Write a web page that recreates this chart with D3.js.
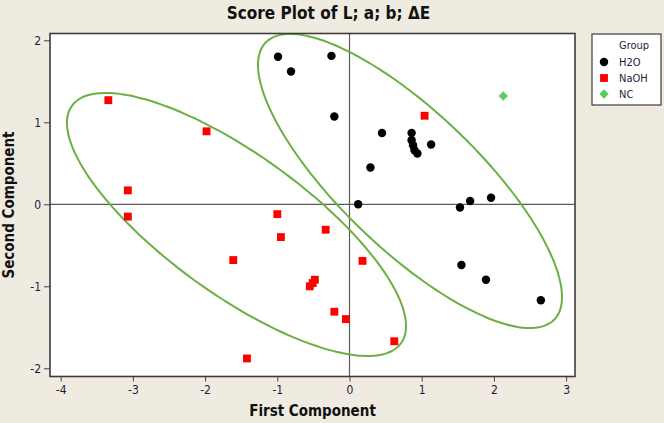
<!DOCTYPE html>
<html>
<head>
<meta charset="utf-8">
<script src="https://cdn.jsdelivr.net/npm/d3@7"></script>
<style>
  body { margin: 0; background: #efebe1; }
  .title { font-family: "DejaVu Sans Condensed", "DejaVu Sans"; font-weight: bold; font-size: 17px; fill: #111; }
  .axisLabel { font-family: "DejaVu Sans Condensed", "DejaVu Sans"; font-weight: bold; font-size: 15px; fill: #111; }
  .tick text { font-family: "DejaVu Sans Condensed", "DejaVu Sans"; font-size: 12px; fill: #1c1c3c; }
  .legendText { font-family: "DejaVu Sans Condensed", "DejaVu Sans"; font-size: 11px; fill: #1c1c3c; }
</style>
</head>
<body>
<div id="chart"></div>
<script>
// Data
var h2oX = [-0.99, -0.81, -0.25, -0.21, 0.45, 0.86, 0.86, 0.88, 0.90, 0.94, 1.13, 0.29, 0.12, 1.53, 1.67, 1.96, 1.55, 1.89, 2.65];
var h2oY = [1.80, 1.62, 1.81, 1.07, 0.87, 0.87, 0.78, 0.72, 0.66, 0.62, 0.73, 0.45, 0.00, -0.04, 0.04, 0.08, -0.74, -0.92, -1.17];
var naohX = [1.04, -3.34, -1.98, -3.07, -3.07, -1.00, -0.95, -1.61, -0.33, 0.18, -0.48, -0.51, -0.55, -0.21, -0.05, 0.62, -1.42];
var naohY = [1.08, 1.27, 0.89, 0.17, -0.15, -0.12, -0.40, -0.68, -0.31, -0.69, -0.92, -0.96, -1.00, -1.31, -1.40, -1.67, -1.88];
var ncX = [2.13];
var ncY = [1.32];
var groups = ["H2O", "NaOH", "NC"];
var xTicks = [-4, -3, -2, -1, 0, 1, 2, 3];
var yTicks = [-2, -1, 0, 1, 2];

// Group ellipses: centre x, centre y, spread x, spread y, correlation
var ellipseH2O = [0.838, 0.284, 2.105, 1.793, -0.789];
var ellipseNaOH = [-1.565, -0.246, 2.348, 1.604, -0.772];

// Spacing
var W = 664, H = 423;
var plot = {left: 50, right: 575, top: 33.5, bottom: 376.5};
var green = "#6cb043";

var svg = d3.select("#chart")
	.append("svg")
	.attr("width", W)
	.attr("height", H);

svg.append("rect")
	.attr("width", W)
	.attr("height", H)
	.style("fill", "#efebe1");

// Scales
var xScale = d3.scaleLinear()
	.domain([-4.148, 3.123])
	.range([plot.left, plot.right]);

var yScale = d3.scaleLinear()
	.domain([-2.10, 2.083])
	.range([plot.bottom, plot.top]);

// Plot area
svg.append("rect")
	.attr("x", plot.left)
	.attr("y", plot.top)
	.attr("width", plot.right - plot.left)
	.attr("height", plot.bottom - plot.top)
	.style("fill", "#fff");

// Reference lines at zero
svg.append("line")
	.attr("x1", xScale(0)).attr("x2", xScale(0))
	.attr("y1", plot.top).attr("y2", plot.bottom)
	.style("stroke", "#5a5a5a").style("stroke-width", 1.2);

svg.append("line")
	.attr("x1", plot.left).attr("x2", plot.right)
	.attr("y1", yScale(0)).attr("y2", yScale(0))
	.style("stroke", "#5a5a5a").style("stroke-width", 1.2);

// Axes (plain hyphen for negatives)
var fmt = function(d) { return String(d); };

var xAxis = svg.append("g")
	.attr("transform", "translate(0," + plot.bottom + ")")
	.call(d3.axisBottom(xScale).tickValues(xTicks).tickFormat(fmt).tickSize(5).tickPadding(4));

var yAxis = svg.append("g")
	.attr("transform", "translate(" + plot.left + ",0)")
	.call(d3.axisLeft(yScale).tickValues(yTicks).tickFormat(fmt).tickSize(6).tickPadding(3));

[xAxis, yAxis].forEach(function(ax) {
	ax.select(".domain").remove();
	ax.selectAll(".tick line").style("stroke", "#444");
});

// Ellipses, built in data space and mapped through the scales
function ellipsePath(e) {
	var pts = d3.range(0, 360, 3).map(function(deg) {
		var t = deg * Math.PI / 180;
		var x = e[0] + e[2] * Math.cos(t);
		var y = e[1] + e[3] * (e[4] * Math.cos(t) + Math.sqrt(1 - e[4] * e[4]) * Math.sin(t));
		return [xScale(x), yScale(y)];
	});
	return d3.line().curve(d3.curveCardinalClosed)(pts);
}

[ellipseH2O, ellipseNaOH].forEach(function(e) {
	svg.append("path")
		.attr("d", ellipsePath(e))
		.style("fill", "none")
		.style("stroke", green)
		.style("stroke-width", 2);
});

// Points
var symCircle = d3.symbol().type(d3.symbolCircle).size(56);
var symSquare = d3.symbol().type(d3.symbolSquare).size(62);
var symDiamond = d3.symbol().type(d3.symbolSquare).size(44);

svg.selectAll(".h2o")
	.data(h2oX)
	.enter()
	.append("path")
	.attr("class", "h2o")
	.attr("d", symCircle)
	.attr("transform", function(d, i) { return "translate(" + xScale(d) + "," + yScale(h2oY[i]) + ")"; })
	.style("fill", "#000");

svg.selectAll(".naoh")
	.data(naohX)
	.enter()
	.append("path")
	.attr("class", "naoh")
	.attr("d", symSquare)
	.attr("transform", function(d, i) { return "translate(" + xScale(d) + "," + yScale(naohY[i]) + ")"; })
	.style("fill", "#ff0000");

svg.selectAll(".nc")
	.data(ncX)
	.enter()
	.append("path")
	.attr("class", "nc")
	.attr("d", symDiamond)
	.attr("transform", function(d, i) { return "translate(" + xScale(d) + "," + yScale(ncY[i]) + ") rotate(45)"; })
	.style("fill", "#5ccc5c");

// Plot frame
svg.append("rect")
	.attr("x", plot.left)
	.attr("y", plot.top)
	.attr("width", plot.right - plot.left)
	.attr("height", plot.bottom - plot.top)
	.style("fill", "none")
	.style("stroke", "#3c3c3c")
	.style("stroke-width", 1.6);

// Title and axis labels
svg.append("text")
	.attr("x", (plot.left + plot.right) / 2 + 16)
	.attr("y", 19)
	.style("text-anchor", "middle")
	.attr("class", "title")
	.text("Score Plot of L; a; b; ΔE");

svg.append("text")
	.attr("x", (plot.left + plot.right) / 2)
	.attr("y", 416)
	.style("text-anchor", "middle")
	.attr("class", "axisLabel")
	.text("First Component");

svg.append("text")
	.attr("transform", "translate(14," + ((plot.top + plot.bottom) / 2) + ") rotate(-90)")
	.style("text-anchor", "middle")
	.attr("class", "axisLabel")
	.text("Second Component");

// Legend
var lx = 592, ly = 34;
svg.append("rect")
	.attr("x", lx).attr("y", ly)
	.attr("width", 69).attr("height", 71)
	.style("fill", "#fff")
	.style("stroke", "#3c3c3c")
	.style("stroke-width", 1.2);

svg.append("text")
	.attr("x", lx + 27).attr("y", ly + 15)
	.attr("class", "legendText")
	.text("Group");

var legendSyms = [symCircle, symSquare, symDiamond];
var legendFill = ["#000", "#ff0000", "#5ccc5c"];
groups.forEach(function(g, i) {
	var yy = ly + 28 + i * 16;
	svg.append("path")
		.attr("d", legendSyms[i])
		.attr("transform", "translate(" + (lx + 12) + "," + yy + ")" + (i == 2 ? " rotate(45)" : ""))
		.style("fill", legendFill[i]);
	svg.append("text")
		.attr("x", lx + 27).attr("y", yy + 4)
		.attr("class", "legendText")
		.text(g);
});
</script>
</body>
</html>
